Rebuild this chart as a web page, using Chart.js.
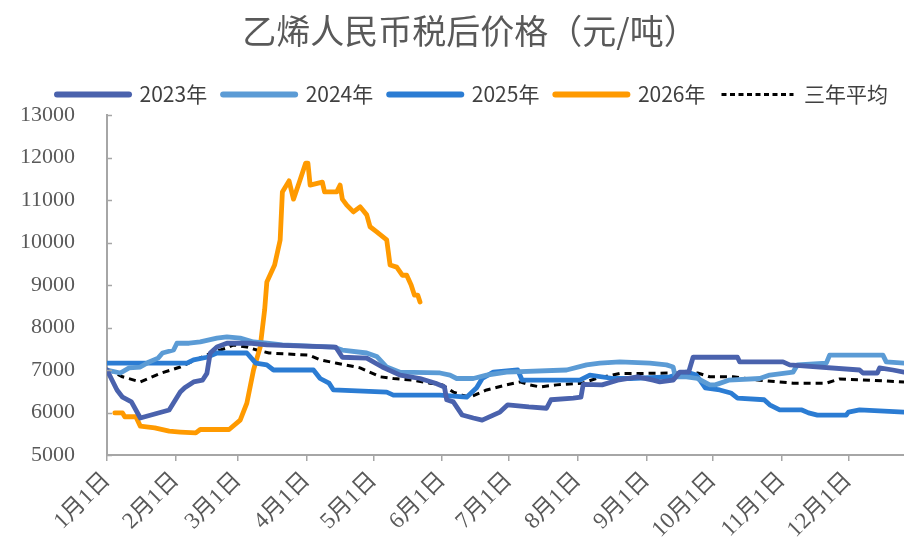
<!DOCTYPE html>
<html><head><meta charset="utf-8">
<script src="https://cdn.jsdelivr.net/npm/chart.js@4.4.1/dist/chart.umd.min.js"></script>
<style>html,body{margin:0;padding:0;background:#fff;}</style>
</head><body>
<canvas id="c" width="904" height="544"></canvas>
<script>
const titleText = '乙烯人民币税后价格（元/吨）';
const seriesNames = ['2023年', '2024年', '2025年', '2026年', '三年平均'];
const monthStartDays = [0, 31, 59, 90, 120, 151, 181, 212, 243, 273, 304, 334];
const monthLabels = ['1月1日', '2月1日', '3月1日', '4月1日', '5月1日', '6月1日', '7月1日', '8月1日', '9月1日', '10月1日', '11月1日', '12月1日'];
const yTickValues = [5000, 6000, 7000, 8000, 9000, 10000, 11000, 12000, 13000];

const days2023 = [0, 4.5, 7, 11, 15, 28, 33, 35, 39, 43, 45, 46.5, 49.5, 54, 57, 64, 72, 103, 106, 117, 124, 132, 141, 148, 152, 153, 156, 160, 165, 169, 177, 180.5, 190, 198, 200, 210, 213.5, 214.5, 223, 230, 239, 246, 249, 255, 258, 262, 264, 284, 285, 304.5, 307.5, 339, 340.5, 347, 348, 354, 359];
const vals2023 = [7000, 6530, 6360, 6250, 5870, 6060, 6480, 6580, 6720, 6760, 6920, 7400, 7540, 7630, 7630, 7630, 7590, 7540, 7300, 7280, 7070, 6880, 6800, 6690, 6600, 6300, 6250, 5940, 5870, 5820, 6010, 6180, 6130, 6100, 6300, 6340, 6360, 6660, 6650, 6760, 6840, 6760, 6720, 6760, 6950, 6950, 7300, 7300, 7190, 7190, 7120, 7000, 6930, 6930, 7050, 7000, 6950];

const days2024 = [0, 6, 10, 15, 19, 23, 25, 30, 31.5, 37, 42, 49.5, 54, 60, 66, 72, 79, 102, 106, 117, 121.5, 126, 132, 150, 154.5, 157.5, 165, 171, 180, 207, 216, 222, 231, 244.5, 252, 255, 256, 261, 266, 271.5, 274, 280, 294, 298.5, 309, 311, 324, 325.5, 349.5, 351, 359];
const vals2024 = [7000, 6930, 7050, 7070, 7190, 7280, 7400, 7470, 7630, 7630, 7660, 7750, 7780, 7750, 7660, 7630, 7590, 7540, 7470, 7400, 7320, 7070, 6950, 6930, 6880, 6800, 6800, 6880, 6950, 7000, 7120, 7160, 7190, 7160, 7120, 7070, 6840, 6840, 6800, 6650, 6650, 6760, 6800, 6880, 6950, 7120, 7160, 7350, 7350, 7190, 7160];

const days2025 = [0, 36, 39, 45, 49.5, 63, 67, 72, 75, 93, 96, 100, 102, 126, 129, 150, 162, 166.5, 169, 174, 185, 187, 213, 217.5, 228, 235.5, 253.5, 261, 265.5, 269.5, 276, 281, 284, 296, 298.5, 303, 313, 316, 320, 333, 334, 339, 359];
const vals2025 = [7160, 7160, 7240, 7300, 7400, 7400, 7160, 7120, 7000, 7000, 6800, 6690, 6530, 6480, 6410, 6410, 6360, 6580, 6800, 6950, 7000, 6760, 6760, 6880, 6800, 6800, 6840, 6950, 6880, 6580, 6530, 6460, 6340, 6300, 6180, 6060, 6060, 5990, 5940, 5940, 6010, 6060, 6010];

const days2026 = [3.5, 7, 8, 13, 15, 21.5, 28, 33, 40, 42, 55, 60, 63, 66, 69, 71, 72, 75.5, 78, 79, 82, 84, 86.5, 89.5, 90.5, 91.5, 97, 98, 103.5, 105, 106, 108, 111, 114, 117, 118.5, 121.5, 126, 127.5, 130.5, 133, 135, 137, 138.5, 140, 141];
const vals2026 = [5990, 5990, 5900, 5900, 5680, 5640, 5560, 5540, 5520, 5600, 5600, 5820, 6220, 7000, 7540, 8410, 9070, 9470, 10060, 11190, 11450, 11020, 11400, 11870, 11870, 11350, 11420, 11190, 11190, 11350, 11020, 10880, 10720, 10840, 10650, 10370, 10250, 10060, 9470, 9420, 9230, 9230, 9000, 8760, 8760, 8600];

const daysAvg = [0, 7, 15, 24, 33, 40, 48, 54, 57, 63, 67.5, 73, 91, 96, 103.5, 114, 123, 129, 138, 145.5, 151, 156, 160, 163.5, 171, 180, 186, 190.5, 195, 202.5, 214, 220.5, 231, 241, 256, 266, 271.5, 282, 294, 303, 309, 324, 330, 344, 359];
const valsAvg = [7020, 6840, 6720, 6920, 7070, 7240, 7420, 7520, 7590, 7540, 7470, 7400, 7350, 7240, 7160, 7050, 6840, 6800, 6760, 6690, 6650, 6480, 6410, 6360, 6530, 6650, 6720, 6650, 6600, 6650, 6690, 6800, 6920, 6920, 6930, 6930, 6840, 6840, 6760, 6720, 6690, 6690, 6790, 6760, 6720];

const colors = ['#4A62AD', '#5B9BD5', '#2B7CD3', '#FF9A00', '#000000'];

function pts(d, v) { return d.map((x, i) => ({ x: x, y: v[i] })); }

const seriesDays = [days2023, days2024, days2025, days2026, daysAvg];
const seriesVals = [vals2023, vals2024, vals2025, vals2026, valsAvg];

const datasets = seriesNames.map((name, i) => ({
  label: name,
  data: pts(seriesDays[i], seriesVals[i]),
  borderColor: colors[i],
  backgroundColor: colors[i],
  borderWidth: i === 4 ? 3 : 4.8,
  borderDash: i === 4 ? [7, 5] : [],
  pointRadius: 0,
  tension: 0,
  fill: false,
  borderJoinStyle: 'round',
  borderCapStyle: i === 4 ? 'butt' : 'round'
}));

const axisGray = '#A6A6A6';
const tickText = '#595959';
const serifFont = '"Liberation Serif", "Noto Sans CJK SC", serif';

const titlePlugin = {
  id: 'customTitle',
  afterDraw(chart) {
    const ctx = chart.ctx;
    ctx.save();
    ctx.fillStyle = '#595959';
    ctx.font = '34px "Noto Sans CJK SC", sans-serif';
    ctx.textAlign = 'center';
    ctx.textBaseline = 'middle';
    ctx.fillText(titleText, 470, 31);
    ctx.restore();
  }
};

const innerTicks = {
  id: 'innerTicks',
  afterDraw(chart) {
    const ys = chart.scales.y;
    const ctx = chart.ctx;
    const left = chart.chartArea.left;
    ctx.save();
    ctx.strokeStyle = axisGray;
    ctx.lineWidth = 1.5;
    yTickValues.forEach(v => {
      const py = Math.round(ys.getPixelForValue(v)) + 0.5;
      ctx.beginPath();
      ctx.moveTo(left, py);
      ctx.lineTo(left + 5, py);
      ctx.stroke();
    });
    ctx.restore();
  }
};

new Chart(document.getElementById('c'), {
  type: 'line',
  data: { datasets: datasets },
  plugins: [titlePlugin, innerTicks],
  options: {
    responsive: false,
    animation: false,
    layout: { padding: { top: 68, left: 0, right: 0, bottom: 0 } },
    plugins: {
      title: { display: false },
      tooltip: { enabled: false },
      legend: {
        display: true,
        position: 'top',
        align: 'end',
        labels: {
          usePointStyle: true,
          pointStyle: 'line',
          pointStyleWidth: 72,
          boxHeight: 10,
          padding: 16,
          color: '#404040',
          font: { size: 21, family: '"Noto Sans CJK SC", sans-serif' },
          generateLabels(chart) {
            const items = Chart.defaults.plugins.legend.labels.generateLabels(chart);
            items.forEach((it, i) => {
              it.pointStyle = 'line';
              it.lineWidth = i === 4 ? 3 : 6;
              it.lineCap = i === 4 ? 'butt' : 'round';
              it.lineDash = i === 4 ? [5, 3.5] : [];
              it.strokeStyle = colors[i];
              it.fillStyle = colors[i];
              it.fontColor = '#404040';
            });
            return items;
          }
        }
      }
    },
    scales: {
      x: {
        type: 'linear',
        min: 0,
        max: 359,
        afterBuildTicks(scale) { scale.ticks = monthStartDays.map(v => ({ value: v })); },
        afterFit(scale) { scale.height = 89; },
        grid: { display: true, drawOnChartArea: false, drawTicks: true, tickLength: 6, color: axisGray, lineWidth: 1.5 },
        border: { display: true, color: axisGray, width: 2 },
        ticks: {
          autoSkip: false,
          minRotation: 45,
          maxRotation: 45,
          padding: 6,
          color: tickText,
          font: { size: 23, family: serifFont },
          callback(value) { const k = monthStartDays.indexOf(value); return k >= 0 ? monthLabels[k] : ''; }
        }
      },
      y: {
        type: 'linear',
        min: 5000,
        max: 13000,
        afterBuildTicks(scale) { scale.ticks = yTickValues.map(v => ({ value: v })); },
        afterFit(scale) { scale.width = 107; },
        grid: { display: true, drawOnChartArea: false, drawTicks: false },
        border: { display: true, color: axisGray, width: 2 },
        ticks: {
          padding: 32,
          color: tickText,
          font: { size: 22, family: serifFont },
          callback(value) { return String(value); }
        }
      }
    }
  }
});
</script>
</body></html>
